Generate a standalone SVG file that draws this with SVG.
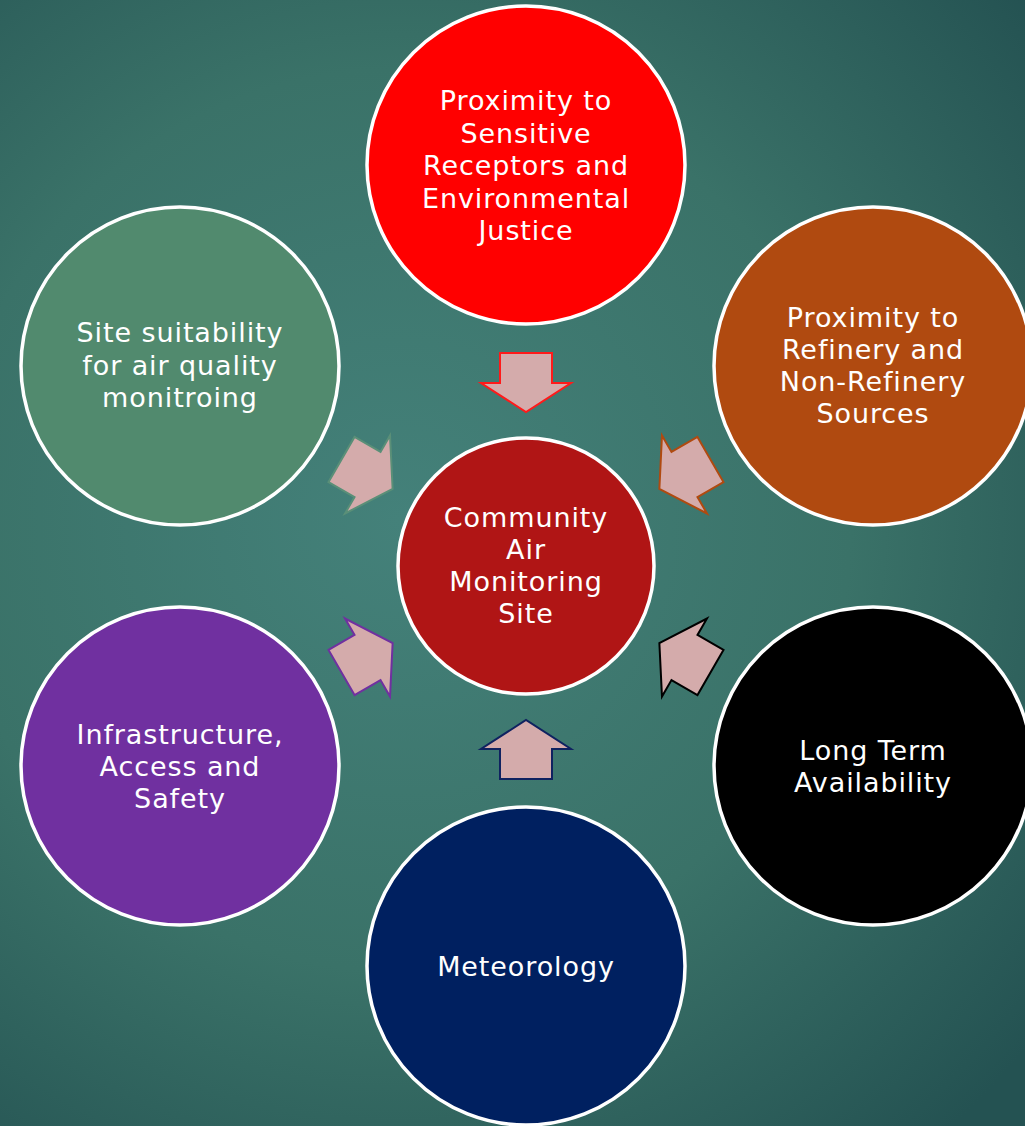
<svg xmlns="http://www.w3.org/2000/svg" width="1025" height="1126" viewBox="0 0 1025 1126">
  <defs>
    <radialGradient id="bg" cx="400" cy="520" r="820" gradientUnits="userSpaceOnUse">
      <stop offset="0" stop-color="#44817a"/>
      <stop offset="0.55" stop-color="#3a7268"/>
      <stop offset="1" stop-color="#245252"/>
    </radialGradient>
    <!-- inward arrow, pointing down toward the hub; positioned relative to hub centre -->
    <polygon id="arrow" points="-26,-213 26,-213 26,-183 45,-183 0,-154 -45,-183 -26,-183"/>
  </defs>
  <style>
    .node { stroke: #ffffff; stroke-width: 3.5; }
    .label { font-family: "DejaVu Sans", "Liberation Sans", sans-serif; font-size: 27px; letter-spacing: 0.9px; fill: #ffffff; text-anchor: middle; }
    .arr { fill: #d4abab; stroke-width: 2; stroke-linejoin: miter; }
  </style>

  <rect x="0" y="0" width="1025" height="1126" fill="url(#bg)"/>

  <!-- connectors: six arrows pointing into the central site -->
  <g id="connectors" transform="translate(526,566)">
    <use href="#arrow" class="arr" stroke="#ff1a1a" transform="rotate(0)"/>
    <use href="#arrow" class="arr" stroke="#b04a10" transform="rotate(60)"/>
    <use href="#arrow" class="arr" stroke="#000000" transform="rotate(120)"/>
    <use href="#arrow" class="arr" stroke="#0f2260" transform="rotate(180)"/>
    <use href="#arrow" class="arr" stroke="#7030a0" transform="rotate(240)"/>
    <use href="#arrow" class="arr" stroke="#5a8f78" transform="rotate(300)"/>
  </g>

  <g id="node-receptors">
    <circle class="node" cx="526" cy="165" r="159" fill="#ff0000"/>
    <text class="label" x="526" y="110">Proximity to</text>
    <text class="label" x="526" y="142.5">Sensitive</text>
    <text class="label" x="526" y="175">Receptors and</text>
    <text class="label" x="526" y="207.5">Environmental</text>
    <text class="label" x="526" y="240">Justice</text>
  </g>

  <g id="node-suitability">
    <circle class="node" cx="180" cy="366" r="159" fill="#518a6e"/>
    <text class="label" x="180" y="342">Site suitability</text>
    <text class="label" x="180" y="374.5">for air quality</text>
    <text class="label" x="180" y="407">monitroing</text>
  </g>

  <g id="node-refinery">
    <circle class="node" cx="873" cy="366" r="159" fill="#b04a10"/>
    <text class="label" x="873" y="327">Proximity to</text>
    <text class="label" x="873" y="359">Refinery and</text>
    <text class="label" x="873" y="391">Non-Refinery</text>
    <text class="label" x="873" y="423">Sources</text>
  </g>

  <g id="node-site">
    <circle class="node" cx="526" cy="566" r="128" fill="#b01515"/>
    <text class="label" x="526" y="527">Community</text>
    <text class="label" x="526" y="559">Air</text>
    <text class="label" x="526" y="591">Monitoring</text>
    <text class="label" x="526" y="623">Site</text>
  </g>

  <g id="node-infrastructure">
    <circle class="node" cx="180" cy="766" r="159" fill="#7030a0"/>
    <text class="label" x="180" y="744">Infrastructure,</text>
    <text class="label" x="180" y="776">Access and</text>
    <text class="label" x="180" y="808">Safety</text>
  </g>

  <g id="node-availability">
    <circle class="node" cx="873" cy="766" r="159" fill="#000000"/>
    <text class="label" x="873" y="760">Long Term</text>
    <text class="label" x="873" y="792">Availability</text>
  </g>

  <g id="node-meteorology">
    <circle class="node" cx="526" cy="966" r="159" fill="#002060"/>
    <text class="label" x="526" y="976">Meteorology</text>
  </g>
</svg>
